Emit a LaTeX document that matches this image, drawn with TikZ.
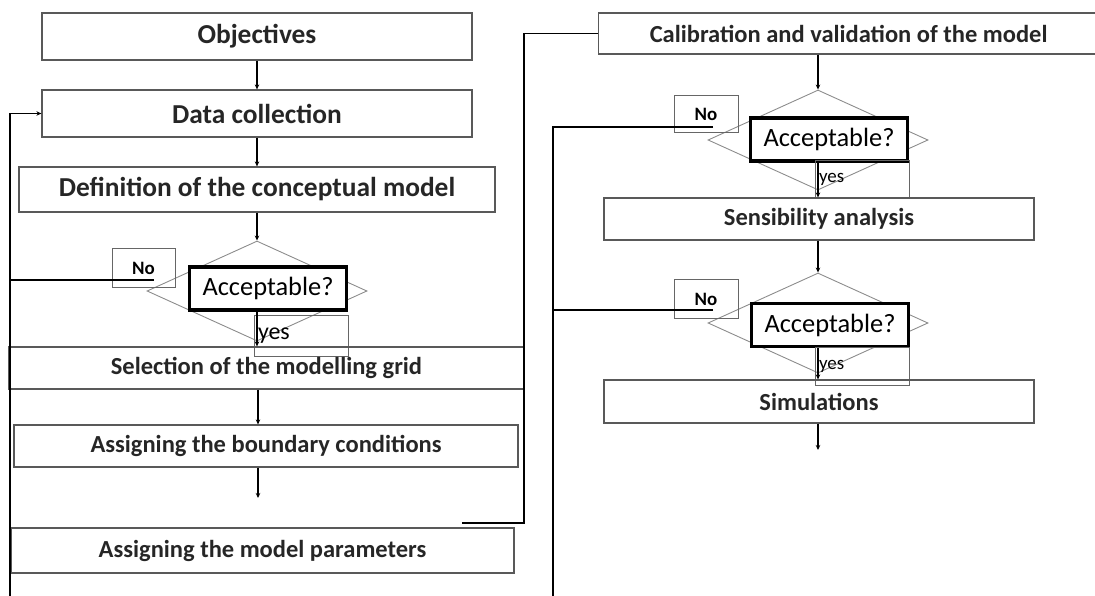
\documentclass[tikz,border=0pt]{standalone}
\usepackage{fontspec}
\setmainfont{Carlito}
\usetikzlibrary{positioning,arrows.meta,shapes.geometric}

\begin{document}
\begin{tikzpicture}[x=1bp,y=-1bp,
  stagebox/.style={draw=black!65,line width=1.2bp,inner sep=0,text=black!85,
    font=\bfseries\fontsize{24.6}{28}\selectfont},
  topbox/.style={stagebox,font=\bfseries\fontsize{27.5}{32}\selectfont},
  choice/.style={diamond,draw=black!45,line width=0.9bp,inner sep=0,
    minimum width=220bp,minimum height=100bp},
  testbox/.style={draw=black,line width=3.5bp,fill=white,inner sep=0,
    minimum width=157bp,minimum height=43bp,font=\fontsize{26.5}{30}\selectfont},
  tagbox/.style={draw=black!60,line width=1bp,inner sep=0,
    font=\bfseries\fontsize{19}{22}\selectfont},
  yesbox/.style={tagbox,minimum width=94bp,align=left,font=\fontsize{19}{22}\selectfont},
  flow/.style={line width=1.4bp,-{Stealth[length=5bp,width=4.5bp]}},
  backline/.style={line width=1.8bp}]
\useasboundingbox (0,0) rectangle (1095,596);

% left column
\node[topbox,minimum width=430bp,minimum height=47bp] (obj) at (257,36.5) {Objectives};
\node[topbox,minimum width=430bp,minimum height=47bp] (data) at (257,113.5) {Data collection};
\node[topbox,minimum width=476bp,minimum height=45bp] (defn) at (257,189.5) {Definition of the conceptual model};
\node[choice] (dia1) at (257,291) {};
\node[testbox] (acc1) at (268,288.5) {Acceptable?};
\node[tagbox,minimum width=63bp,minimum height=38bp] (no1) at (143.5,268) {No};
\node[yesbox,minimum height=41bp,text width=86bp,font=\fontsize{24}{26}\selectfont] (yes1) at (301,335.5) {yes};
\node[stagebox,minimum width=515bp,minimum height=42bp] (sel) at (266.5,368) {Selection of the modelling grid};
\node[stagebox,minimum width=504bp,minimum height=42bp] (bnd) at (266,446) {Assigning the boundary conditions};
\node[stagebox,minimum width=503bp,minimum height=45bp] (par) at (262.5,550.5) {Assigning the model parameters};

% right column
\node[stagebox,minimum width=500bp,minimum height=41bp,anchor=west] (cal) at (598,33.5) {Calibration and validation of the model};
\node[choice] (dia2) at (818,140) {};
\node[testbox] (acc2) at (829,139.5) {Acceptable?};
\node[tagbox,minimum width=64bp,minimum height=37bp] (no2) at (706,114.5) {No};
\node[yesbox,minimum height=37bp,text width=86bp] (yes2) at (862,179.5) {yes};
\node[stagebox,minimum width=430bp,minimum height=42bp] (sen) at (819,219) {Sensibility analysis};
\node[choice] (dia3) at (818,323) {};
\node[testbox] (acc3) at (830,325) {Acceptable?};
\node[tagbox,minimum width=64bp,minimum height=38bp] (no3) at (706,299) {No};
\node[yesbox,minimum height=38bp,text width=86bp] (yes3) at (862,366) {yes};
\node[stagebox,minimum width=430bp,minimum height=43bp] (sim) at (819,401.5) {Simulations};

\coordinate (no1end) at (154,280);
\coordinate (lftbot) at (10,600);
\coordinate (bndend) at (258,498);
\coordinate (parfrom) at (462,523);
\coordinate (rgt) at (524,523);
\coordinate (no2end) at (713,127);
\coordinate (no3end) at (713,310);
\coordinate (rgtbot) at (553,600);
\coordinate (simend) at (818,450);

\draw[flow] (obj) -- (data);
\draw[flow] (data) -- (defn);
\draw[flow] (defn) -- (dia1.north);
\draw[flow] (dia1.center |- acc1.south) -- (dia1.center |- sel.north);
\draw[flow] (sel.south -| bndend) -- (bnd.north -| bndend);
\draw[flow] (bnd.south -| bndend) -- (bndend);
\draw[backline] (no1end) -- (no1end -| lftbot);
\draw[backline,-{Stealth[length=5bp,width=4.5bp]}] (lftbot) |- (data.west);
\draw[backline] (parfrom) -- (rgt) |- (cal.west);

\draw[flow] (dia2.north |- cal.south) -- (dia2.north);
\draw[flow] (dia2.center |- acc2.south) -- (dia2.center |- sen.north);
\draw[flow] (dia3.north |- sen.south) -- (dia3.north);
\draw[flow] (dia3.center |- acc3.south) -- (dia3.center |- sim.north);
\draw[flow] (dia3.center |- sim.south) -- (simend);
\draw[backline] (no2end) -| (rgtbot);
\draw[backline] (no3end) -- (no3end -| rgtbot);
\end{tikzpicture}
\end{document}
